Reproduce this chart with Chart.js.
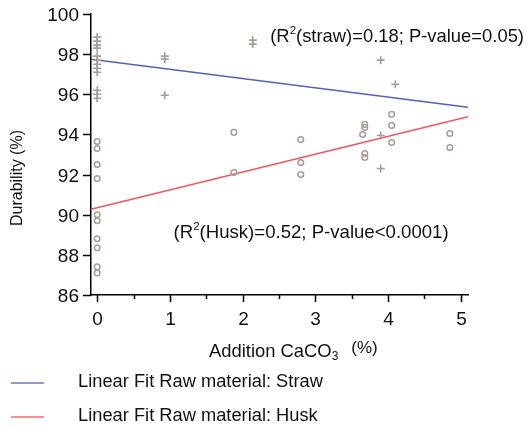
<!DOCTYPE html>
<html>
<head>
<meta charset="utf-8">
<script src="https://cdn.jsdelivr.net/npm/chart.js@4/dist/chart.umd.min.js"></script>
<style>
  html, body { margin: 0; padding: 0; background: #fff; }
  #wrap { width: 530px; height: 428px; }
</style>
</head>
<body>
<div id="wrap"><canvas id="chart" width="530" height="428"></canvas></div>
<script>
// durability vs CaCO3 addition, raw material straw (+) and husk (o)
const strawX = [0, 0, 0, 0, 0, 0, 0, 0, 0, 0, 0, 0, 0.93, 0.93, 0.93, 2.14, 2.14, 3.9, 3.9, 3.9, 4.1];
const strawY = [98.85, 98.65, 98.45, 98.3, 97.9, 97.7, 97.5, 97.3, 97.1, 96.2, 96.0, 95.8,
  97.9, 97.75, 95.95, 98.7, 98.5, 97.7, 93.95, 92.3, 96.5];

const huskX = [0, 0, 0, 0, 0, 0, 0, 0, 0, 0, 1.88, 1.88, 2.8, 2.8, 2.8,
  3.68, 3.68, 3.65, 3.68, 3.68, 4.05, 4.05, 4.05, 4.85, 4.85];
const huskY = [93.65, 93.3, 92.5, 91.8, 90.0, 89.7, 88.8, 88.35, 87.4, 87.1, 94.1, 92.1,
  93.75, 92.6, 92.0, 94.5, 94.35, 94.0, 93.05, 92.85, 95.0, 94.45, 93.6, 94.05, 93.35];

// linear fits, evaluated at the ends of the x range
const fitX = [-0.085, 5.1];
const strawFitY = [97.74, 95.35];
const huskFitY = [90.27, 94.88];

const xTicks = [0, 1, 2, 3, 4, 5];
const xMinorTicks = [0.5, 1.5, 2.5, 3.5, 4.5];
const yTicks = [86, 88, 90, 92, 94, 96, 98, 100];

const strawLabel = "Linear Fit Raw material: Straw";
const huskLabel = "Linear Fit Raw material: Husk";

const FONT = "Arial, 'Liberation Sans', sans-serif";
const MARKER = "#a69d98";
const BLUE = "#5262b8";
const RED = "#f2525a";

const zip = (xs, ys) => xs.map((x, i) => ({ x, y: ys[i] }));

// draws a row of text pieces (normal / super / subscript) left to right
function drawRuns(ctx, x, y, runs) {
  ctx.textAlign = "left";
  ctx.textBaseline = "middle";
  runs.forEach((r) => {
    ctx.font = `${r.size}px ${FONT}`;
    ctx.fillText(r.text, x, y + (r.dy || 0));
    x += ctx.measureText(r.text).width + (r.gap || 0);
  });
}

// axis ticks, tick labels, titles, fit statistics and legend
const decorations = {
  id: "decorations",
  afterDraw(chart) {
    const { ctx, chartArea, scales } = chart;
    const xs = scales.x, ys = scales.y;
    ctx.save();
    ctx.strokeStyle = "#000";
    ctx.fillStyle = "#111";
    ctx.lineWidth = 1.5;
    ctx.font = `19px ${FONT}`;
    ctx.textBaseline = "middle";

    ctx.textAlign = "right";
    yTicks.forEach((v) => {
      const py = Math.round(ys.getPixelForValue(v)) + 0.5;
      ctx.beginPath();
      ctx.moveTo(chartArea.left - 8, py);
      ctx.lineTo(chartArea.left, py);
      ctx.stroke();
      ctx.fillText(String(v), chartArea.left - 12, py + 1);
    });
    ctx.textAlign = "center";
    xTicks.forEach((v) => {
      const px = Math.round(xs.getPixelForValue(v)) + 0.5;
      ctx.beginPath();
      ctx.moveTo(px, chartArea.bottom);
      ctx.lineTo(px, chartArea.bottom + 7);
      ctx.stroke();
      ctx.fillText(String(v), px, chartArea.bottom + 25);
    });
    xMinorTicks.forEach((v) => {
      const px = Math.round(xs.getPixelForValue(v)) + 0.5;
      ctx.beginPath();
      ctx.moveTo(px, chartArea.bottom);
      ctx.lineTo(px, chartArea.bottom + 4);
      ctx.stroke();
    });

    // fit statistics
    drawRuns(ctx, xs.getPixelForValue(2.38), ys.getPixelForValue(98.85), [
      { text: "(R", size: 18.4 },
      { text: "2", size: 11.5, dy: -6 },
      { text: "(straw)=0.18; P-value=0.05)", size: 18.4 },
    ]);
    drawRuns(ctx, xs.getPixelForValue(1.05), ys.getPixelForValue(89.1), [
      { text: "(R", size: 18.6 },
      { text: "2", size: 11.5, dy: -6 },
      { text: "(Husk)=0.52; P-value<0.0001)", size: 18.6 },
    ]);

    // x axis title with subscript
    drawRuns(ctx, 209, 352, [
      { text: "Addition CaCO", size: 18.4 },
      { text: "3", size: 12, dy: 5, gap: 13 },
      { text: "(%)", size: 17, dy: -4 },
    ]);

    // y axis title
    ctx.save();
    ctx.translate(18, 178);
    ctx.rotate(-Math.PI / 2);
    ctx.font = `16px ${FONT}`;
    ctx.textAlign = "center";
    ctx.textBaseline = "middle";
    ctx.fillText("Durability (%)", 0, 0);
    ctx.restore();

    // legend
    [[strawLabel, "#6877c4", 383], [huskLabel, "#f26a72", 417]].forEach(([label, color, ly]) => {
      ctx.strokeStyle = color;
      ctx.lineWidth = 1.5;
      ctx.beginPath();
      ctx.moveTo(11, ly);
      ctx.lineTo(44, ly);
      ctx.stroke();
      ctx.fillStyle = "#111";
      drawRuns(ctx, 78, ly - 1, [{ text: label, size: 18.3 }]);
    });

    ctx.restore();
  },
};

new Chart(document.getElementById("chart"), {
  type: "scatter",
  data: {
    datasets: [
      {
        label: "Straw",
        data: zip(strawX, strawY),
        pointStyle: "cross",
        pointRadius: 4,
        borderColor: MARKER,
        borderWidth: 1.6,
        showLine: false,
      },
      {
        label: "Husk",
        data: zip(huskX, huskY),
        pointStyle: "circle",
        pointRadius: 2.8,
        backgroundColor: "rgba(0,0,0,0)",
        borderColor: MARKER,
        borderWidth: 1.5,
        showLine: false,
      },
      {
        label: strawLabel,
        data: zip(fitX, strawFitY),
        showLine: true,
        pointRadius: 0,
        borderColor: BLUE,
        borderWidth: 1.5,
      },
      {
        label: huskLabel,
        data: zip(fitX, huskFitY),
        showLine: true,
        pointRadius: 0,
        borderColor: RED,
        borderWidth: 1.5,
      },
    ],
  },
  options: {
    responsive: false,
    animation: false,
    devicePixelRatio: 1,
    layout: { padding: { left: 0, top: 14, right: 62, bottom: 93 } },
    plugins: { legend: { display: false }, tooltip: { enabled: false } },
    scales: {
      x: {
        type: "linear",
        min: -0.085,
        max: 5.1,
        afterFit: (s) => {
          s.height = 40;
          s.paddingLeft = 0;
          s.paddingRight = 0;
        },
        grid: { display: false },
        border: { display: true, color: "#000", width: 1.5 },
        ticks: { display: false, stepSize: 1 },
      },
      y: {
        min: 86,
        max: 100,
        afterFit: (s) => {
          s.width = 91;
          s.paddingTop = 0;
          s.paddingBottom = 0;
        },
        grid: { display: false },
        border: { display: true, color: "#000", width: 1.5 },
        ticks: { display: false, stepSize: 2 },
      },
    },
  },
  plugins: [decorations],
});
</script>
</body>
</html>
